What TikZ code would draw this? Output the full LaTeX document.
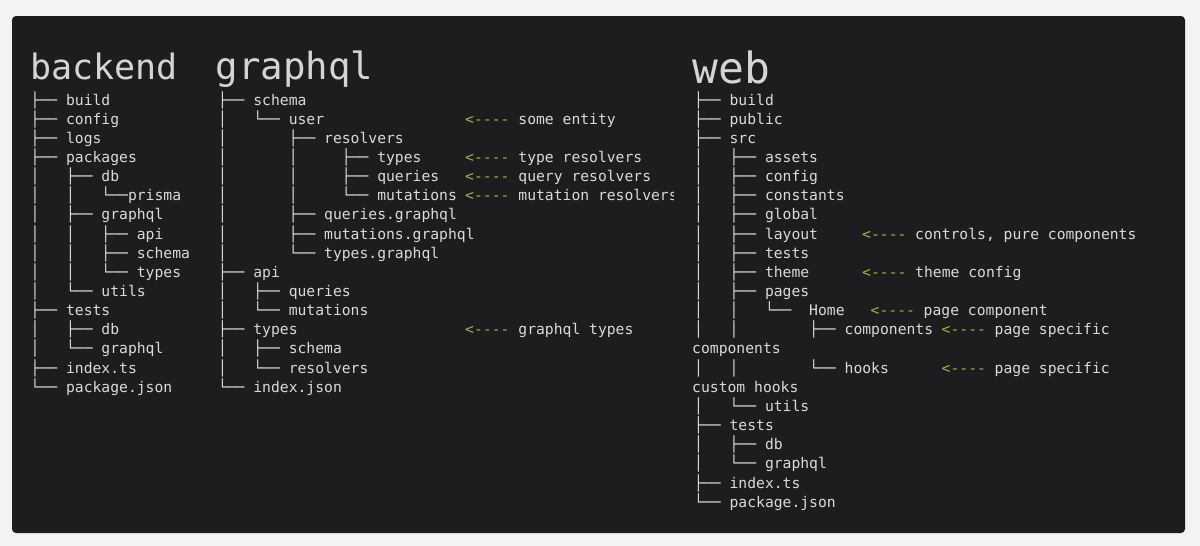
\documentclass[tikz,border=0pt]{standalone}
\usepackage{fontspec}
\newfontfamily\mono{DejaVu Sans Mono}
\definecolor{pagebg}{HTML}{F3F3F3}
\definecolor{termbg}{HTML}{1D1D20}
\definecolor{termfg}{HTML}{DADADA}
\definecolor{titlefg}{HTML}{D4D4D4}
\definecolor{arrowgreen}{HTML}{9CB83C}
\tikzset{
  ln/.style={anchor=base west, inner sep=0pt, text=termfg, font=\mono\fontsize{14.7}{14.7}\selectfont},
  arr/.style={ln, text=arrowgreen},
  ttl/.style={anchor=base west, inner sep=0pt, text=titlefg},
}
\def\cw{8.84}
\newcommand\rowy[1]{100+19.15*#1+5}
\newcommand\Ln[4]{\node[ln] (#1) at (#2,{\rowy{#3}}) {#4};}
\begin{document}
\begin{tikzpicture}[x=1pt,y=-1pt]
\fill[pagebg] (0,0) rectangle (1200,546);
\useasboundingbox (0,0) rectangle (1200,546);
\fill[termbg, rounded corners=4pt] (12,16) rectangle (1185,533);
% titles
\node[ttl, font=\mono\fontsize{35}{35}\selectfont] (tb) at (30,79.5) {backend};
\node[ttl, font=\mono\fontsize{37.4}{37.4}\selectfont] (tg) at (215.5,79.5) {graphql};
\node[ttl, font=\mono\fontsize{43}{43}\selectfont] (tw) at (692.5,83) {web};
% backend
\def\X{30.5}
\Ln{b0}{\X}{0}{├── build}
\Ln{b1}{\X}{1}{├── config}
\Ln{b2}{\X}{2}{├── logs}
\Ln{b3}{\X}{3}{├── packages}
\Ln{b4}{\X}{4}{│~~~├── db}
\Ln{b5}{\X}{5}{│~~~│~~~└──prisma}
\Ln{b6}{\X}{6}{│~~~├── graphql}
\Ln{b7}{\X}{7}{│~~~│~~~├── api}
\Ln{b8}{\X}{8}{│~~~│~~~├── schema}
\Ln{b9}{\X}{9}{│~~~│~~~└── types}
\Ln{b10}{\X}{10}{│~~~└── utils}
\Ln{b11}{\X}{11}{├── tests}
\Ln{b12}{\X}{12}{│~~~├── db}
\Ln{b13}{\X}{13}{│~~~└── graphql}
\Ln{b14}{\X}{14}{├── index.ts}
\Ln{b15}{\X}{15}{└── package.json}
% graphql
\def\X{217.8}
\Ln{g0}{\X}{0}{├── schema}
\Ln{g1}{\X}{1}{│~~~└── user}
\Ln{g2}{\X}{2}{│~~~~~~~├── resolvers}
\Ln{g3}{\X}{3}{│~~~~~~~│~~~~~├── types}
\Ln{g4}{\X}{4}{│~~~~~~~│~~~~~├── queries}
\Ln{g5}{\X}{5}{│~~~~~~~│~~~~~└── mutations}
\Ln{g6}{\X}{6}{│~~~~~~~├── queries.graphql}
\Ln{g7}{\X}{7}{│~~~~~~~├── mutations.graphql}
\Ln{g8}{\X}{8}{│~~~~~~~└── types.graphql}
\Ln{g9}{\X}{9}{├── api}
\Ln{g10}{\X}{10}{│~~~├── queries}
\Ln{g11}{\X}{11}{│~~~└── mutations}
\Ln{g12}{\X}{12}{├── types}
\Ln{g13}{\X}{13}{│~~~├── schema}
\Ln{g14}{\X}{14}{│~~~└── resolvers}
\Ln{g15}{\X}{15}{└── index.json}
\begin{scope}
\clip (400,20) rectangle (673.5,530);
\node[arr] (c1a) at (465,{\rowy{1}}) {<----};
\node[ln] (c1t) at (518.2,{\rowy{1}}) {some entity};
\node[arr] (c3a) at (465,{\rowy{3}}) {<----};
\node[ln] (c3t) at (518.2,{\rowy{3}}) {type resolvers};
\node[arr] (c4a) at (465,{\rowy{4}}) {<----};
\node[ln] (c4t) at (518.2,{\rowy{4}}) {query resolvers};
\node[arr] (c5a) at (465,{\rowy{5}}) {<----};
\node[ln] (c5t) at (518.2,{\rowy{5}}) {mutation resolvers};
\node[arr] (c12a) at (465,{\rowy{12}}) {<----};
\node[ln] (c12t) at (518.2,{\rowy{12}}) {graphql types};
\end{scope}
% web
\def\X{694}
\Ln{w0}{\X}{0}{├── build}
\Ln{w1}{\X}{1}{├── public}
\Ln{w2}{\X}{2}{├── src}
\Ln{w3}{\X}{3}{│~~~├── assets}
\Ln{w4}{\X}{4}{│~~~├── config}
\Ln{w5}{\X}{5}{│~~~├── constants}
\Ln{w6}{\X}{6}{│~~~├── global}
\Ln{w7}{\X}{7}{│~~~├── layout}
\Ln{w8}{\X}{8}{│~~~├── tests}
\Ln{w9}{\X}{9}{│~~~├── theme}
\Ln{w10}{\X}{10}{│~~~├── pages}
\Ln{w11}{\X}{11}{│~~~│~~~└──~~Home}
\Ln{w12}{\X}{12}{│~~~│~~~~~~~~├── components}
\Ln{w13}{692}{13}{components}
\Ln{w14}{\X}{14}{│~~~│~~~~~~~~└── hooks}
\Ln{w15}{692}{15}{custom hooks}
\Ln{w16}{\X}{16}{│~~~└── utils}
\Ln{w17}{\X}{17}{├── tests}
\Ln{w18}{\X}{18}{│~~~├── db}
\Ln{w19}{\X}{19}{│~~~└── graphql}
\Ln{w20}{\X}{20}{├── index.ts}
\Ln{w21}{\X}{21}{└── package.json}
\node[arr] (d7a) at (862,{\rowy{7}}) {<----};
\node[ln] (d7t) at (915,{\rowy{7}}) {controls, pure components};
\node[arr] (d9a) at (862,{\rowy{9}}) {<----};
\node[ln] (d9t) at (915,{\rowy{9}}) {theme config};
\node[arr] (d11a) at (870.5,{\rowy{11}}) {<----};
\node[ln] (d11t) at (923.5,{\rowy{11}}) {page component};
\node[arr] (d12a) at (941.5,{\rowy{12}}) {<----};
\node[ln] (d12t) at (994.5,{\rowy{12}}) {page specific};
\node[arr] (d14a) at (941.5,{\rowy{14}}) {<----};
\node[ln] (d14t) at (994.5,{\rowy{14}}) {page specific};
\end{tikzpicture}
\end{document}
